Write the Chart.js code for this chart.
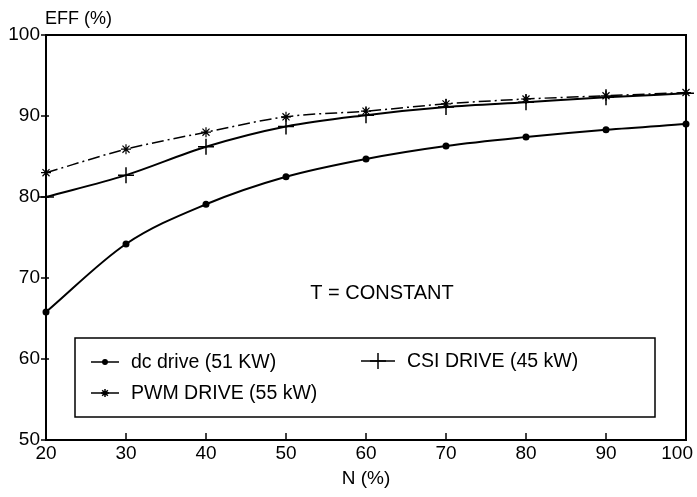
<!DOCTYPE html>
<html>
<head>
<meta charset="utf-8">
<script src="https://cdn.jsdelivr.net/npm/chart.js@4/dist/chart.umd.min.js"></script>
<style>
  html, body { margin: 0; padding: 0; background: #fff; }
  #wrap { width: 697px; height: 497px; }
</style>
</head>
<body>
<div id="wrap"><canvas id="mycanvas"></canvas></div>
<script>
var speed = [20, 30, 40, 50, 60, 70, 80, 90, 100];
var dcDrive = [65.8, 74.2, 79.1, 82.5, 84.7, 86.3, 87.4, 88.3, 89.0];
var csiDrive = [80.0, 82.7, 86.2, 88.7, 90.1, 91.1, 91.7, 92.3, 92.8];
var pwmDrive = [83.0, 85.9, 88.0, 89.9, 90.6, 91.5, 92.1, 92.5, 92.9];
var yTicks = [50, 60, 70, 80, 90, 100];

var FONT = "'Liberation Sans', Arial, sans-serif";

function pts(ys) {
	return speed.map(function(x, i) { return {x: x, y: ys[i]}; });
}

// frame, inward x ticks, y ticks, labels and legend box
var decor = {
	id: 'decor',
	afterDatasetsDraw: function(chart) {
		var ctx = chart.ctx;
		var a = chart.chartArea;
		var xs = chart.scales.x, ys = chart.scales.y;
		ctx.save();
		ctx.strokeStyle = '#000';
		ctx.lineWidth = 2;
		ctx.strokeRect(a.left, a.top, a.right - a.left, a.bottom - a.top);
		ctx.lineWidth = 1.5;
		speed.forEach(function(v) {
			var px = xs.getPixelForValue(v);
			ctx.beginPath();
			ctx.moveTo(px, a.bottom);
			ctx.lineTo(px, a.bottom - 7);
			ctx.stroke();
		});
		yTicks.forEach(function(v) {
			var py = ys.getPixelForValue(v);
			ctx.beginPath();
			ctx.moveTo(a.left + 3, py);
			ctx.lineTo(a.left - 5, py);
			ctx.stroke();
		});

		// x tick labels, last one kept inside the canvas
		ctx.fillStyle = '#000';
		ctx.font = '19px ' + FONT;
		ctx.textAlign = 'center';
		ctx.textBaseline = 'middle';
		xs.ticks.forEach(function(t) {
			var label = String(t.value);
			var w = ctx.measureText(label).width;
			var px = Math.min(xs.getPixelForValue(t.value), chart.width - 4 - w / 2);
			ctx.fillText(label, px, a.bottom + 14);
		});

		ctx.font = '18px ' + FONT;
		ctx.textAlign = 'left';
		ctx.fillText('EFF (%)', 45, 19);

		ctx.font = '20px ' + FONT;
		ctx.textAlign = 'center';
		ctx.fillText('T = CONSTANT', 382, 293);

		// legend
		ctx.fillStyle = '#fff';
		ctx.fillRect(75, 338, 580, 79);
		ctx.lineWidth = 1.5;
		ctx.strokeRect(75, 338, 580, 79);
		ctx.fillStyle = '#000';
		ctx.textAlign = 'left';
		ctx.font = '19.5px ' + FONT;

		var rows = [
			{x: 91, y: 362, label: 'dc drive (51 KW)', style: 'circle', r: 2.2},
			{x: 91, y: 393, label: 'PWM DRIVE (55 kW)', style: 'star', r: 4},
			{x: 361, y: 361, label: 'CSI DRIVE (45 kW)', style: 'cross', r: 8}
		];
		rows.forEach(function(r) {
			var len = r.style === 'cross' ? 34 : 28;
			ctx.lineWidth = 1.5;
			ctx.beginPath();
			ctx.moveTo(r.x, r.y);
			ctx.lineTo(r.x + len, r.y);
			ctx.stroke();
			Chart.helpers.drawPoint(ctx, {pointStyle: r.style, radius: r.r, borderWidth: 1.3, rotation: 0}, r.x + len / 2, r.y);
			if (r.style === 'circle') { ctx.fill(); }
			ctx.fillText(r.label, r.x + len + 12, r.y + 1);
		});
		ctx.restore();
	}
};

var ctx = document.getElementById('mycanvas');

var chart = new Chart(ctx, {
	type: 'line',
	data: {
		datasets: [
			{
				label: 'dc drive (51 KW)',
				data: pts(dcDrive),
				borderColor: '#000',
				backgroundColor: '#000',
				borderWidth: 2,
				pointStyle: 'circle',
				pointRadius: 2.5,
				cubicInterpolationMode: 'monotone'
			},
			{
				label: 'CSI DRIVE (45 kW)',
				data: pts(csiDrive),
				borderColor: '#000',
				backgroundColor: '#000',
				borderWidth: 2,
				pointStyle: 'cross',
				pointRadius: 8,
				pointBorderWidth: 1.5,
				cubicInterpolationMode: 'monotone'
			},
			{
				label: 'PWM DRIVE (55 kW)',
				data: pts(pwmDrive),
				borderColor: '#000',
				backgroundColor: '#000',
				borderWidth: 1.5,
				borderDash: [12, 4, 2, 4],
				pointStyle: 'star',
				pointRadius: 5,
				pointBorderWidth: 1.2,
				cubicInterpolationMode: 'monotone'
			}
		]
	},
	options: {
		responsive: true,
		maintainAspectRatio: false,
		animation: false,
		clip: false,
		layout: { padding: { left: 0, right: 11, top: 35, bottom: 0 } },
		plugins: {
			legend: { display: false },
			tooltip: { enabled: false }
		},
		scales: {
			x: {
				type: 'linear',
				min: 20,
				max: 100,
				grid: { display: false, drawTicks: false },
				border: { display: true, color: '#000', width: 2 },
				ticks: {
					stepSize: 10,
					display: false
				},
				title: {
					display: true,
					text: 'N (%)',
					color: '#000',
					font: { family: FONT, size: 19 },
					padding: { top: 0, bottom: 7 }
				},
				afterFit: function(s) {
					s.height = 57;
					s.paddingLeft = 0;
					s.paddingRight = 0;
				}
			},
			y: {
				min: 50,
				max: 100,
				grid: { display: false, drawTicks: false },
				border: { display: true, color: '#000', width: 2 },
				ticks: {
					stepSize: 10,
					color: '#000',
					padding: 6,
					font: { family: FONT, size: 19 }
				},
				afterFit: function(s) {
					s.width = 46;
					s.paddingTop = 0;
					s.paddingBottom = 0;
				}
			}
		}
	},
	plugins: [decor]
});
</script>
</body>
</html>
